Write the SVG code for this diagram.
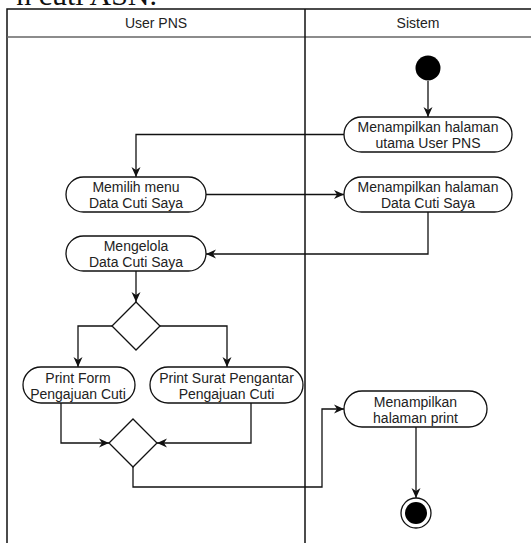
<svg xmlns="http://www.w3.org/2000/svg" width="531" height="543" viewBox="0 0 531 543">
  <style>
    .lane { fill: none; stroke: #111; stroke-width: 1.5; }
    .sep { stroke: #666; stroke-width: 1.5; }
    .hdr { font-family: "Liberation Sans", Arial, sans-serif; font-size: 14px; fill: #222; text-anchor: middle; }
    .act rect { fill: #fff; stroke: #111; stroke-width: 1.3; }
    .act text { font-family: "Liberation Sans", Arial, sans-serif; font-size: 14px; fill: #222; text-anchor: middle; }
    .dec polygon { fill: #fff; stroke: #111; stroke-width: 1.3; }
    .edge { fill: none; stroke: #111; stroke-width: 1.3; marker-end: url(#arr); }
  </style>
  <defs>
    <marker id="arr" markerUnits="userSpaceOnUse" markerWidth="12" markerHeight="10" refX="10" refY="5" orient="auto">
      <path d="M0,0.5 L10,5 L0,9.5 L3,5 z" fill="#111"/>
    </marker>
  </defs>

  <rect width="531" height="543" fill="#fff"/>

  <!-- caption line cut off at the top of the page -->
  <text x="157" y="5" text-anchor="end" font-family="Liberation Serif, 'Times New Roman', serif" font-size="30" fill="#111">n cuti ASN.</text>

  <!-- swimlane frame -->
  <g id="swimlanes">
    <rect class="lane" x="7" y="9" width="530" height="560"/>
    <line class="sep" x1="7" y1="37" x2="531" y2="37"/>
    <line x1="305" y1="9" x2="305" y2="543" stroke="#111" stroke-width="1.5"/>
    <text class="hdr" x="156" y="28">User PNS</text>
    <text class="hdr" x="418" y="28">Sistem</text>
  </g>

  <!-- connectors -->
  <g id="connectors">
    <path class="edge" d="M428,81 L428,117"/>
    <path class="edge" d="M344,134.5 L136,134.5 L136,177"/>
    <path class="edge" d="M206,194.5 L344,194.5"/>
    <path class="edge" d="M428,212 L428,254 L206,254"/>
    <path class="edge" d="M136,271 L136,302"/>
    <path class="edge" d="M112,326 L78,326 L78,367"/>
    <path class="edge" d="M160,326 L227,326 L227,367"/>
    <path class="edge" d="M61,403 L61,443 L109,443"/>
    <path class="edge" d="M251,403 L251,443 L157,443"/>
    <path class="edge" d="M133,467 L133,487 L322,487 L322,409 L344,409"/>
    <path class="edge" d="M416,427 L416,498"/>
  </g>

  <!-- start -->
  <g id="start">
    <circle cx="428" cy="68" r="12.5" fill="#000"/>
  </g>

  <g id="n1" class="act">
    <rect x="344" y="117" width="168" height="35" rx="17.5"/>
    <text x="428" y="132">Menampilkan halaman</text>
    <text x="428" y="148">utama User PNS</text>
  </g>

  <g id="n2" class="act">
    <rect x="66" y="177" width="140" height="35" rx="17.5"/>
    <text x="136" y="192">Memilih menu</text>
    <text x="136" y="208">Data Cuti Saya</text>
  </g>

  <g id="n3" class="act">
    <rect x="344" y="177" width="168" height="35" rx="17.5"/>
    <text x="428" y="192">Menampilkan halaman</text>
    <text x="428" y="208">Data Cuti Saya</text>
  </g>

  <g id="n4" class="act">
    <rect x="66" y="236" width="140" height="35" rx="17.5"/>
    <text x="136" y="251">Mengelola</text>
    <text x="136" y="267">Data Cuti Saya</text>
  </g>

  <g id="d1" class="dec">
    <polygon points="136,302 160,326 136,350 112,326"/>
  </g>

  <g id="n5" class="act">
    <rect x="23" y="367" width="112" height="36" rx="18"/>
    <text x="78" y="383">Print Form</text>
    <text x="78" y="399">Pengajuan Cuti</text>
  </g>

  <g id="n6" class="act">
    <rect x="150" y="367" width="153" height="36" rx="18"/>
    <text x="226.5" y="383">Print Surat Pengantar</text>
    <text x="226.5" y="399">Pengajuan Cuti</text>
  </g>

  <g id="d2" class="dec">
    <polygon points="133,419 157,443 133,467 109,443"/>
  </g>

  <g id="n7" class="act">
    <rect x="344" y="391" width="143" height="36" rx="18"/>
    <text x="415.5" y="407">Menampilkan</text>
    <text x="415.5" y="423">halaman print</text>
  </g>

  <!-- end -->
  <g id="end">
    <circle cx="416" cy="513" r="15" fill="#fff" stroke="#111" stroke-width="1.3"/>
    <circle cx="416" cy="513" r="11" fill="#000"/>
  </g>
</svg>
